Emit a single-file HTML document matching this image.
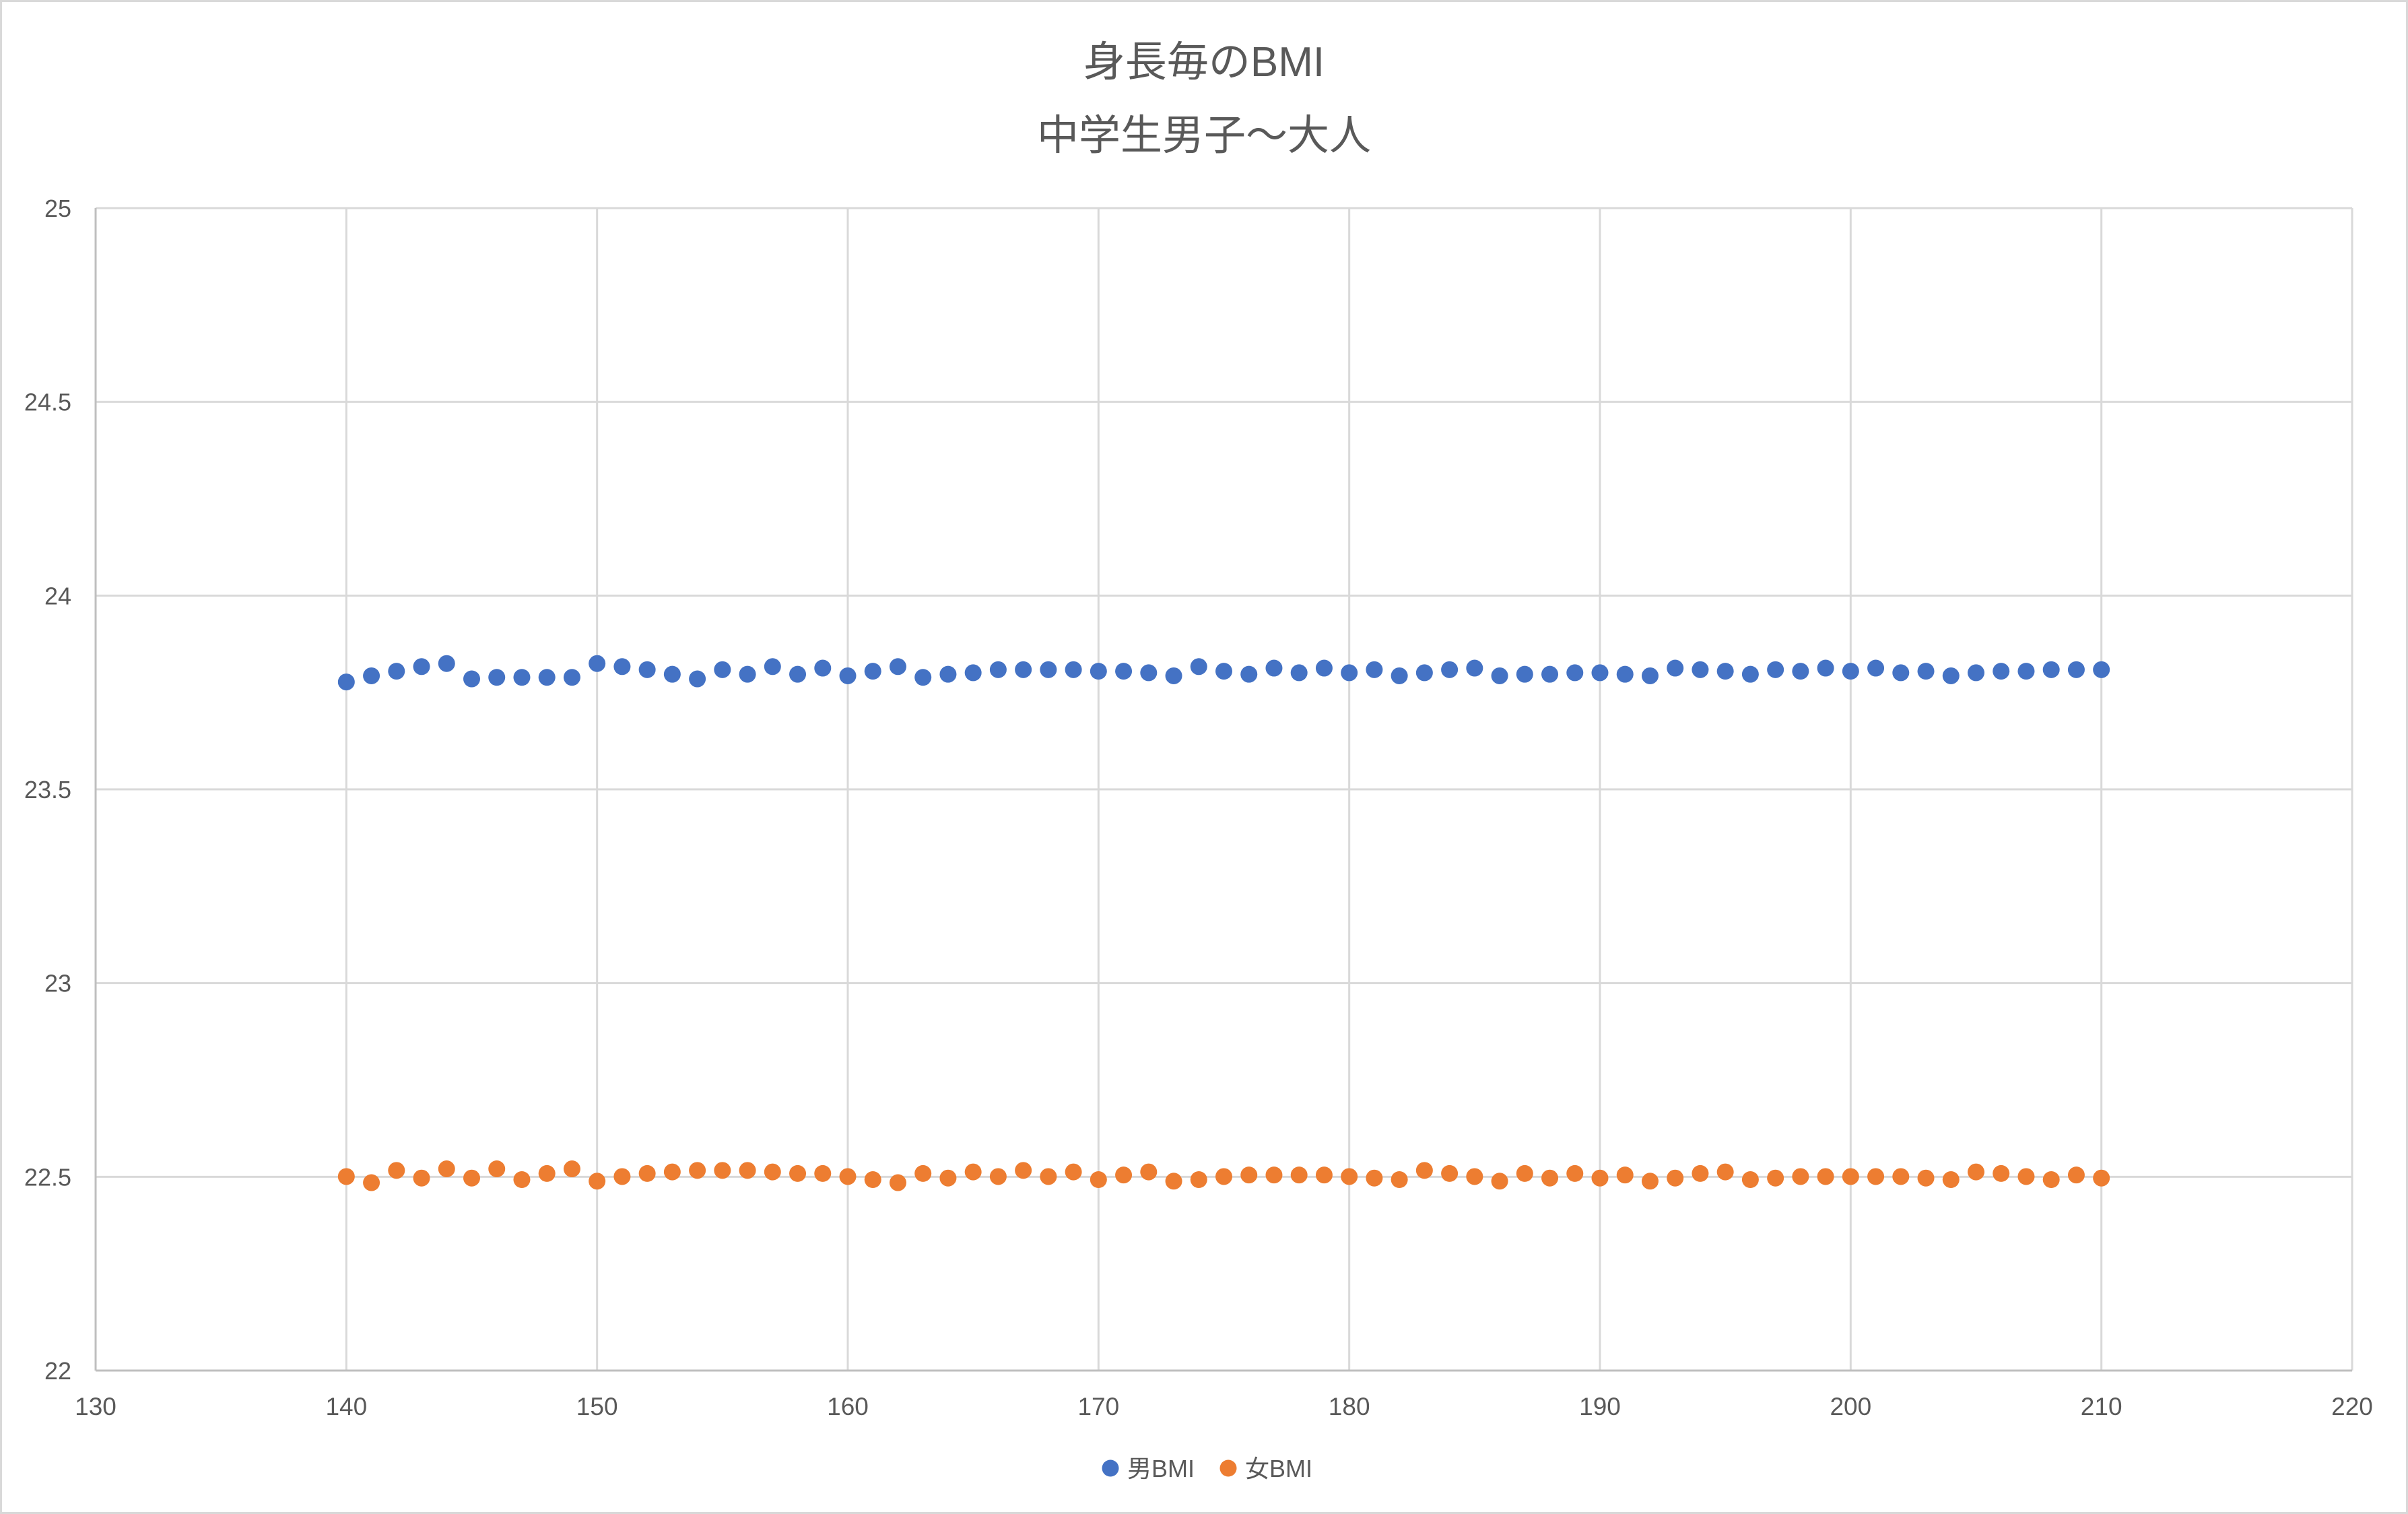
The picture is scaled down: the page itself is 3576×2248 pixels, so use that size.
<!DOCTYPE html>
<html><head><meta charset="utf-8"><style>
html,body{margin:0;padding:0;background:#fff}
svg{display:block}
text{font-family:"Liberation Sans","Noto Sans CJK JP",sans-serif;fill:#595959}
</style></head><body>
<svg id="s" width="3576" height="2248" xmlns="http://www.w3.org/2000/svg">
<rect x="1.5" y="1.5" width="3573" height="2245" fill="#fff" stroke="#d9d9d9" stroke-width="3"/>
<text x="1788" y="113" font-size="62" text-anchor="middle">身長毎のBMI</text>
<text x="1788" y="222" font-size="62" text-anchor="middle">中学生男子～大人</text>
<g id="g"></g>
<circle cx="1649" cy="2180" r="12.5" fill="#4472C4"/>
<text x="1674" y="2193" font-size="36">男BMI</text>
<circle cx="1824" cy="2180" r="12.5" fill="#ED7D31"/>
<text x="1849" y="2193" font-size="36">女BMI</text>
</svg>
<script>
var g=document.getElementById('g'),h='';
var L=142,R=3493,T=309,B=2035;
function X(v){return L+(v-130)*(R-L)/90}
function Y(v){return B-(v-22)*(B-T)/3}
for(var i=1;i<=9;i++){var x=X(130+i*10);h+='<line x1="'+x+'" y1="'+T+'" x2="'+x+'" y2="'+B+'" stroke="#d9d9d9" stroke-width="3"/>';}
for(var j=1;j<=6;j++){var y=Y(22+j*0.5);h+='<line x1="'+L+'" y1="'+y+'" x2="'+R+'" y2="'+y+'" stroke="#d9d9d9" stroke-width="3"/>';}
h+='<line x1="'+L+'" y1="'+T+'" x2="'+L+'" y2="'+B+'" stroke="#bfbfbf" stroke-width="3"/>';
h+='<line x1="'+L+'" y1="'+B+'" x2="'+R+'" y2="'+B+'" stroke="#bfbfbf" stroke-width="3"/>';
for(var j=0;j<=6;j++){var v=22+j*0.5;h+='<text x="106" y="'+(Y(v)+13)+'" font-size="36" text-anchor="end">'+v+'</text>';}
for(var i=0;i<=9;i++){h+='<text x="'+X(130+i*10)+'" y="2101" font-size="37" text-anchor="middle">'+(130+i*10)+'</text>';}
var m=[444,440,437,434,432,442,441,441,441,441,432,434,436,439,442,436,439,434,439,435,440,437,434,441,439,438,436,436,436,436,437,437,438,440,434,437,439,435,438,435,438,436,440,438,436,435,440,439,439,438,438,439,440,435,436,437,439,436,437,435,437,435,438,437,440,438,437,437,436,436,436];
var f=[766,770,762,767,761,767,761,768,764,761,769,766,764,763,762,762,762,763,764,764,766,768,770,764,767,763,766,762,766,763,768,765,763,769,768,766,765,765,765,765,766,767,768,762,764,766,769,764,767,764,767,765,769,767,764,763,768,767,766,766,766,766,766,767,768,763,764,766,768,765,767];
var k=2.2806;
for(var i=0;i<m.length;i++){h+='<circle cx="'+X(140+i)+'" cy="'+(m[i]*k)+'" r="12.5" fill="#4472C4"/>';}
for(var i=0;i<f.length;i++){h+='<circle cx="'+X(140+i)+'" cy="'+(f[i]*k)+'" r="12.5" fill="#ED7D31"/>';}
g.innerHTML=h;
</script>
</body></html>
